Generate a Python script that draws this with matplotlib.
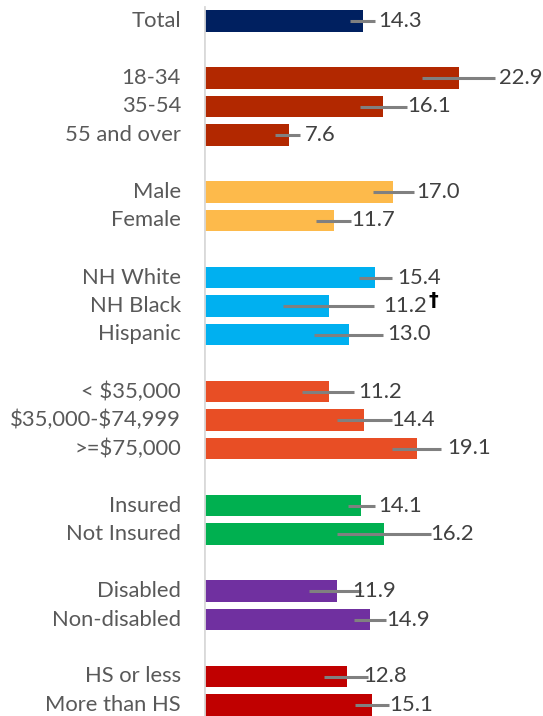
import matplotlib
matplotlib.use("Agg")
import matplotlib.pyplot as plt

categories = ["Total",
              "18-34", "35-54", "55 and over",
              "Male", "Female",
              "NH White", "NH Black", "Hispanic",
              "< $35,000", "$35,000-$74,999", ">=$75,000",
              "Insured", "Not Insured",
              "Disabled", "Non-disabled",
              "HS or less", "More than HS"]
values = [14.3, 22.9, 16.1, 7.6, 17.0, 11.7, 15.4, 11.2, 13.0,
          11.2, 14.4, 19.1, 14.1, 16.2, 11.9, 14.9, 12.8, 15.1]
ci_low = [13.1, 19.6, 14.0, 6.4, 15.2, 10.1, 13.9, 7.1, 9.9,
          8.8, 11.9, 16.9, 12.9, 11.9, 9.4, 13.5, 10.8, 13.6]
ci_high = [15.4, 26.1, 18.2, 8.6, 18.9, 13.2, 16.9, 15.3, 16.1,
           13.5, 16.9, 21.3, 15.4, 20.4, 14.1, 16.3, 14.7, 16.6]
groups = ["total", "age", "age", "age", "sex", "sex", "race", "race", "race",
          "income", "income", "income", "ins", "ins", "dis", "dis", "edu", "edu"]
flags = ["", "", "", "", "", "", "", "†", "", "", "", "", "", "", "", "", "", ""]

# layout / style (not data)
row_pos = [0, 2, 3, 4, 6, 7, 9, 10, 11, 13, 14, 15, 17, 18, 20, 21, 23, 24]
label_nudge_px = [3, 4, 1, 5, 2, 0, 5, 9, 4, 4, -1, 6, 3, -1, -9, 1, -4, 0]
group_colors = {"total": "#002060", "age": "#B22800", "sex": "#FDBA4B",
                "race": "#00B0F0", "income": "#E84E25", "ins": "#00B050",
                "dis": "#7030A0", "edu": "#C00000"}

plt.rcParams["font.family"] = ["Lato", "DejaVu Sans"]

W, H = 543, 716
fig = plt.figure(figsize=(W / 100, H / 100), dpi=100)
left_px = 204
ax = fig.add_axes([left_px / W, 0, 1 - left_px / W, 1])
px_per_unit = 11.135
ax.set_xlim(0, (W - left_px) / px_per_unit)
row_px = 28.5
top_px = 21
ax.set_ylim((H - top_px) / row_px, -top_px / row_px)
ax.axis("off")

colors = [group_colors[g] for g in groups]
ax.barh(row_pos, values, height=0.76, color=colors, zorder=2)
ax.hlines(row_pos, ci_low, ci_high, color="#808080", linewidth=2.2, zorder=3)
ax.axvline(0, ymin=0, ymax=1 - 7 / H, color="#D9D9D9", linewidth=2, zorder=4)

fs = 15.8
for y, v, hi, nud, fl, name in zip(row_pos, values, ci_high, label_nudge_px, flags, categories):
    t = ax.annotate(f"{v:.1f}", xy=(hi, y), xytext=(nud * 0.72, 0),
                    textcoords="offset points", ha="left", va="center",
                    fontsize=fs, color="#404040", zorder=5)
    if fl:
        ax.annotate(fl, xy=(1, 0.75), xycoords=t, xytext=(1, 0),
                    textcoords="offset points", ha="left", va="center",
                    fontsize=14, fontweight="bold", color="black",
                    family=["DejaVu Sans"])
    ax.annotate(name, xy=(0, y), xytext=(-(left_px - 181) * 0.72, 0),
                textcoords="offset points", ha="right", va="center",
                fontsize=fs, color="#595959", annotation_clip=False,
                parse_math=False)

fig.savefig("out.png", dpi=100)
